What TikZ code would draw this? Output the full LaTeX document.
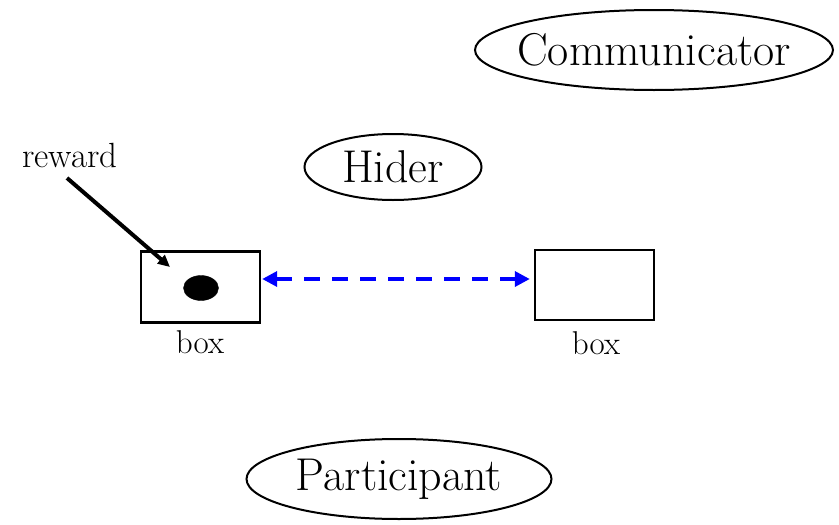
\documentclass[tikz,border=0pt]{standalone}
\usetikzlibrary{shapes.geometric,arrows.meta}
\begin{document}
\begin{tikzpicture}[x=1pt,y=-1pt,
  actor/.style={draw, ellipse, line width=2pt, inner sep=0pt,
     label={[font=\fontsize{46}{52}\selectfont, inner sep=0pt]center:#1}},
  boxnode/.style={draw, rectangle, line width=2.4pt, minimum width=119pt, minimum height=71pt, inner sep=0pt},
  lbl/.style={font=\fontsize{33}{38}\selectfont, inner sep=0pt},
  link/.style={draw=blue, line width=3.5pt, dash pattern=on 16pt off 12pt,
     {Triangle[length=15pt,width=15pt,fill=blue]}-{Triangle[length=15pt,width=15pt,fill=blue]}},
  pointer/.style={draw=black, line width=4pt, -{Triangle[length=12pt,width=11pt]}}
]
\useasboundingbox (0,0) rectangle (839,525);
\node[actor=Communicator, minimum width=358pt, minimum height=80pt] (comm) at (654,50) {};
\node[actor=Hider, minimum width=177pt, minimum height=66pt] (hider) at (393,167) {};
\node[actor=Participant, minimum width=305pt, minimum height=80pt] (part) at (399,479) {};
\node[boxnode] (lbox) at (200.5,287) {};
\node[boxnode, minimum height=70pt] (rbox) at (594.5,285) {};
\node[lbl] (lboxlbl) at (200,342) {box};
\node[lbl] (rboxlbl) at (596,343) {box};
\node[lbl, font=\fontsize{35}{40}\selectfont] (reward) at (70,155) {reward};
\node[draw, fill=black, ellipse, minimum width=35pt, minimum height=25pt, inner sep=0pt] (dot) at (201,288) {};
\coordinate (rstart) at (67,178);
\coordinate (rtip) at (170,267);
\draw[pointer] (rstart) -- (rtip);
\draw[link, shorten <=1pt, shorten >=4pt] ([yshift=8pt]lbox.east) -- ([yshift=6pt]rbox.west);
\end{tikzpicture}
\end{document}
